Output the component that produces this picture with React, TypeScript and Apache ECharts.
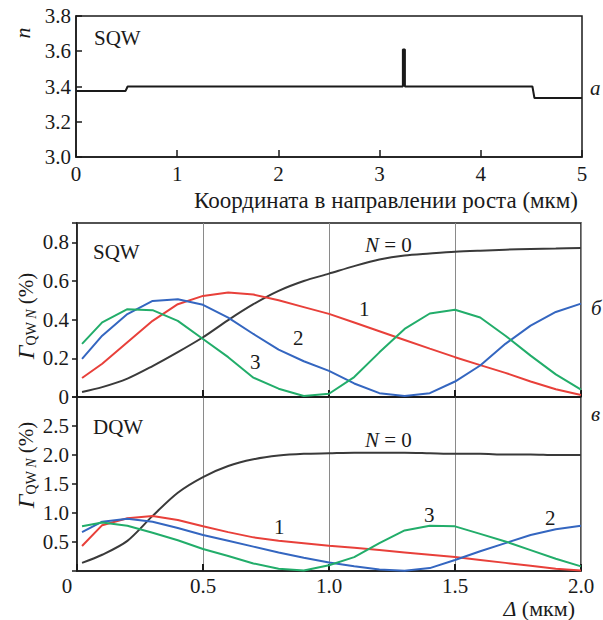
import React, { useEffect, useRef } from "react";
import * as echarts from "echarts";

// Panel a: refractive index profile (step line)
const growthX = [0, 0.49, 0.51, 3.23, 3.23, 3.25, 3.25, 4.51, 4.53, 5.0];
const indexN = [3.375, 3.375, 3.4, 3.4, 3.61, 3.61, 3.4, 3.4, 3.335, 3.335];
const topXTicks = [0, 1, 2, 3, 4, 5];

// Δ values shared by panels б and в
const deltaX = [0.02, 0.1, 0.2, 0.3, 0.4, 0.5, 0.6, 0.7, 0.8, 0.9, 1.0, 1.1, 1.2, 1.3, 1.4, 1.5, 1.6, 1.7, 1.8, 1.9, 2.0];

// Panel б: SQW
const sqwN0 = [0.026, 0.051, 0.095, 0.16, 0.232, 0.309, 0.398, 0.48, 0.549, 0.6, 0.638, 0.677, 0.711, 0.732, 0.742, 0.751, 0.757, 0.762, 0.766, 0.768, 0.771];
const sqwN1 = [0.098, 0.172, 0.283, 0.394, 0.48, 0.523, 0.54, 0.53, 0.5, 0.465, 0.43, 0.385, 0.34, 0.295, 0.25, 0.206, 0.165, 0.125, 0.08, 0.04, 0.01];
const sqwN2 = [0.197, 0.317, 0.429, 0.497, 0.506, 0.477, 0.411, 0.326, 0.245, 0.185, 0.135, 0.07, 0.02, 0.005, 0.02, 0.08, 0.163, 0.275, 0.369, 0.44, 0.483];
const sqwN3 = [0.275, 0.386, 0.454, 0.449, 0.394, 0.3, 0.206, 0.1, 0.043, 0.005, 0.017, 0.103, 0.231, 0.352, 0.432, 0.451, 0.411, 0.317, 0.214, 0.117, 0.038];

// Panel в: DQW
const dqwN0 = [0.14, 0.28, 0.52, 0.95, 1.35, 1.62, 1.81, 1.925, 1.99, 2.02, 2.03, 2.04, 2.04, 2.04, 2.03, 2.02, 2.02, 2.01, 2.01, 2.0, 2.0];
const dqwN1 = [0.43, 0.79, 0.91, 0.95, 0.88, 0.77, 0.67, 0.58, 0.52, 0.48, 0.435, 0.4, 0.36, 0.32, 0.28, 0.24, 0.19, 0.14, 0.09, 0.04, 0.01];
const dqwN2 = [0.67, 0.85, 0.9, 0.85, 0.74, 0.62, 0.52, 0.42, 0.32, 0.23, 0.146, 0.08, 0.025, 0.005, 0.05, 0.19, 0.34, 0.48, 0.62, 0.72, 0.78];
const dqwN3 = [0.77, 0.835, 0.78, 0.66, 0.53, 0.38, 0.26, 0.13, 0.04, 0.01, 0.1, 0.24, 0.48, 0.7, 0.78, 0.77, 0.64, 0.51, 0.36, 0.21, 0.08];

const FONT = "Liberation Serif";
const INK = "#1a1a1a";
const COLORS = { n0: "#3a3a3a", n1: "#e8403a", n2: "#3466c0", n3: "#22ad6a" };

const pairs = (xs: number[], ys: number[]) => xs.map((x, i) => [x, ys[i]]);

export default function App() {
  const ref = useRef<HTMLDivElement>(null);
  useEffect(() => {
    document.body.style.margin = "0";
    const chart = echarts.init(ref.current!, null, { renderer: "svg" });
    const axisLineStyle = { color: INK, width: 1.5 };
    const labelStyle = { fontFamily: FONT, fontSize: 21, color: INK };
    const xAxisCommon = (gi: number, showLabels: boolean) => ({
      type: "value",
      gridIndex: gi,
      min: 0,
      max: 2,
      interval: 0.5,
      axisLine: { show: true, lineStyle: axisLineStyle },
      axisTick: { show: true, inside: true, length: 7, lineStyle: { color: INK, width: 2 } },
      splitLine: { show: true, lineStyle: { color: "#8a8a8a", width: 1 } },
      axisLabel: showLabels
        ? {
            ...labelStyle,
            margin: 4,
            formatter: (v: number) => (v === 0 ? "{z|0}" : v.toFixed(1)),
            rich: { z: { fontFamily: FONT, fontSize: 21, color: INK, padding: [0, 20, 0, 0] } },
          }
        : { show: false },
    });
    const lineSeries = (xi: number, ys: number[], color: string, smooth: boolean | number) => ({
      type: "line",
      xAxisIndex: xi,
      yAxisIndex: xi,
      data: pairs(deltaX, ys),
      showSymbol: false,
      smooth,
      lineStyle: { color, width: 2 },
      z: 3,
    });
    const txt = (text: string, x: number, y: number, extra: any = {}) => ({
      type: "text",
      x,
      y,
      z: 10,
      ...extra,
      style: {
        text,
        fontFamily: FONT,
        fontSize: 21,
        fill: INK,
        align: "left",
        verticalAlign: "middle",
        ...(extra.style || {}),
      },
    });
    const gammaRich = {
      g: { fontFamily: FONT, fontSize: 24, fontStyle: "italic", fill: INK, color: INK },
      s: { fontFamily: FONT, fontSize: 14, fill: INK, color: INK, verticalAlign: "bottom", padding: [8, 0, 0, 0] },
      si: { fontFamily: FONT, fontSize: 14, fontStyle: "italic", fill: INK, color: INK, verticalAlign: "bottom", padding: [8, 0, 0, 0] },
      p: { fontFamily: FONT, fontSize: 21, fill: INK, color: INK },
    };
    const italicRich = { i: { fontFamily: FONT, fontSize: 21, fontStyle: "italic", fill: INK } };
    chart.setOption({
      animation: false,
      backgroundColor: "#ffffff",
      textStyle: { fontFamily: FONT },
      grid: [
        { left: 76, right: 21, top: 16, height: 141, show: true, borderColor: INK, borderWidth: 1.5 },
        { left: 77, right: 22, top: 223, height: 174, show: true, borderColor: INK, borderWidth: 1.5 },
        { left: 77, right: 22, top: 397, height: 174, show: true, borderColor: INK, borderWidth: 1.5 },
      ],
      xAxis: [
        {
          type: "value",
          gridIndex: 0,
          min: 0,
          max: 5,
          interval: 1,
          axisLine: { show: true, lineStyle: axisLineStyle },
          axisTick: { show: true, inside: true, length: 7, lineStyle: { color: INK, width: 1.5 } },
          splitLine: { show: false },
          axisLabel: { ...labelStyle, margin: 6, formatter: (v: number) => (topXTicks.includes(v) ? String(v) : "") },
        },
        xAxisCommon(1, false),
        xAxisCommon(2, true),
      ],
      yAxis: [
        {
          type: "value",
          gridIndex: 0,
          min: 3.0,
          max: 3.8,
          interval: 0.2,
          axisLine: { show: true, lineStyle: axisLineStyle },
          axisTick: { show: true, inside: true, length: 6, lineStyle: { color: INK, width: 1.5 } },
          splitLine: { show: false },
          axisLabel: { ...labelStyle, margin: 5, formatter: (v: number) => v.toFixed(1) },
        },
        {
          type: "value",
          gridIndex: 1,
          min: 0,
          max: 0.9,
          interval: 0.2,
          axisLine: { show: true, lineStyle: axisLineStyle },
          axisTick: { show: true, inside: false, length: 5, lineStyle: { color: INK, width: 1.5 } },
          splitLine: { show: false },
          axisLabel: {
            ...labelStyle,
            margin: 8,
            formatter: (v: number) => (v === 0 ? "0" : v > 0.85 ? "" : v.toFixed(1)),
          },
        },
        {
          type: "value",
          gridIndex: 2,
          min: 0,
          max: 3,
          interval: 0.5,
          axisLine: { show: true, lineStyle: axisLineStyle },
          axisTick: { show: true, inside: false, length: 5, lineStyle: { color: INK, width: 1.5 } },
          splitLine: { show: false },
          axisLabel: {
            ...labelStyle,
            margin: 8,
            formatter: (v: number) => (v === 0 || v >= 3 ? "" : v.toFixed(1)),
          },
        },
      ],
      series: [
        {
          type: "line",
          xAxisIndex: 0,
          yAxisIndex: 0,
          data: pairs(growthX, indexN),
          showSymbol: false,
          lineStyle: { color: INK, width: 2 },
        },
        lineSeries(1, sqwN0, COLORS.n0, 0.3),
        lineSeries(1, sqwN1, COLORS.n1, false),
        lineSeries(1, sqwN2, COLORS.n2, false),
        lineSeries(1, sqwN3, COLORS.n3, false),
        lineSeries(2, dqwN0, COLORS.n0, 0.3),
        lineSeries(2, dqwN1, COLORS.n1, false),
        lineSeries(2, dqwN2, COLORS.n2, false),
        lineSeries(2, dqwN3, COLORS.n3, false),
      ],
      graphic: [
        txt("n", 22, 33, { rotation: Math.PI / 2, style: { fontStyle: "italic", align: "center", fontSize: 22 } }),
        txt("SQW", 94, 38),
        txt("Координата в направлении роста (мкм)", 578, 200, { style: { align: "right", fontSize: 23 } }),
        txt("а", 590, 88, { style: { fontStyle: "italic" } }),
        txt("SQW", 93, 252),
        txt("{i|N} = 0", 365, 245, { style: { rich: italicRich } }),
        txt("1", 359, 309),
        txt("2", 293, 338),
        txt("3", 250, 362),
        txt("б", 591, 308, { style: { fontStyle: "italic" } }),
        txt("DQW", 93, 427),
        txt("{i|N} = 0", 365, 440, { style: { rich: italicRich } }),
        txt("1", 274, 527),
        txt("3", 424, 515),
        txt("2", 545, 518),
        txt("в", 591, 414, { style: { fontStyle: "italic" } }),
        txt("{g|Γ}{s|QW }{si|N}{p| (%)}", 26, 316, {
          rotation: Math.PI / 2,
          style: { align: "center", rich: gammaRich },
        }),
        txt("{g|Γ}{s|QW }{si|N}{p| (%)}", 26, 465, {
          rotation: Math.PI / 2,
          style: { align: "center", rich: gammaRich },
        }),
        txt("{i|Δ} (мкм)", 575, 608, {
          style: {
            align: "right",
            fontSize: 22,
            rich: { i: { fontFamily: FONT, fontSize: 22, fontStyle: "italic", fill: INK } },
          },
        }),
      ],
    });
    return () => chart.dispose();
  }, []);
  return (
    <div
      ref={ref}
      style={{ position: "fixed", left: 0, top: 0, width: 603, height: 620, background: "#fff" }}
    />
  );
}
